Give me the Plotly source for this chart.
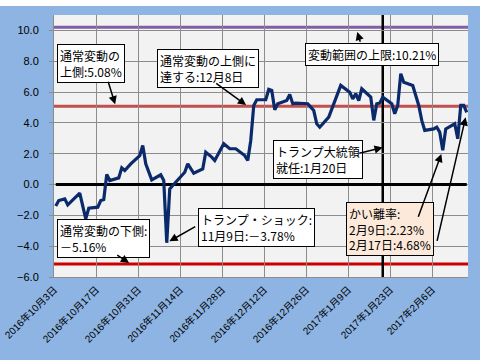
import plotly.graph_objects as go
import pandas as pd

# ---- data ----
DATES = [
    "2016-10-03", "2016-10-04", "2016-10-06", "2016-10-07", "2016-10-11", "2016-10-13",
    "2016-10-14", "2016-10-17", "2016-10-18", "2016-10-19", "2016-10-20", "2016-10-21",
    "2016-10-24", "2016-10-25", "2016-10-26", "2016-10-28", "2016-10-31", "2016-11-01",
    "2016-11-02", "2016-11-04", "2016-11-07", "2016-11-08", "2016-11-09", "2016-11-10",
    "2016-11-11", "2016-11-14", "2016-11-15", "2016-11-16", "2016-11-18", "2016-11-21",
    "2016-11-22", "2016-11-24", "2016-11-25", "2016-11-28", "2016-11-30", "2016-12-02",
    "2016-12-05", "2016-12-06", "2016-12-07", "2016-12-08", "2016-12-09", "2016-12-12",
    "2016-12-13", "2016-12-14", "2016-12-15", "2016-12-16", "2016-12-19", "2016-12-20",
    "2016-12-21", "2016-12-22", "2016-12-26", "2016-12-27", "2016-12-28", "2016-12-29",
    "2016-12-30", "2017-01-02", "2017-01-04", "2017-01-05", "2017-01-06", "2017-01-09",
    "2017-01-10", "2017-01-11", "2017-01-12", "2017-01-13", "2017-01-16", "2017-01-17",
    "2017-01-18", "2017-01-19", "2017-01-20", "2017-01-23", "2017-01-24", "2017-01-25",
    "2017-01-26", "2017-01-27", "2017-01-30", "2017-02-01", "2017-02-02", "2017-02-03",
    "2017-02-06", "2017-02-07", "2017-02-08", "2017-02-09", "2017-02-10", "2017-02-13",
    "2017-02-14", "2017-02-15", "2017-02-16", "2017-02-17",
]
DEVIATION = [
    -1.40, -1.04, -0.93, -1.32, -0.56, -2.23,
    -1.54, -1.47, -1.04, -0.97, 0.65, 0.26,
    0.43, 1.08, 0.91, 1.34, 1.88, 2.53,
    1.34, 0.30, 0.63, 0.26, -3.78, -0.28,
    -0.06, 0.58, 0.80, 1.34, 0.73, 1.02,
    2.10, 1.78, 1.56, 2.64, 2.32, 2.32,
    1.88, 1.56, 2.86, 5.13, 5.50, 5.50,
    6.17, 6.10, 4.85, 5.24, 5.45, 5.84,
    5.24, 5.28, 5.24, 5.02, 4.80, 3.94,
    3.72, 4.37, 5.34, 5.89, 6.43, 5.99,
    5.56, 5.89, 5.45, 6.21, 5.67, 4.16,
    5.24, 5.28, 5.67, 5.24, 4.59, 5.13,
    7.19, 6.64, 6.43, 5.13, 4.16, 3.51,
    3.61, 3.72, 3.40, 2.23, 3.61, 3.94,
    2.97, 5.13, 5.13, 4.68,
]
UPPER_NORMAL = 5.08
LOWER_NORMAL = -5.16
UPPER_LIMIT = 10.21
INAUGURATION = "2017-01-20"
SHOCK_DATE = "2016-11-09"
SHOCK_VALUE = -3.78
FEB9_DATE, FEB9_VALUE = "2017-02-09", 2.23
FEB17_DATE, FEB17_VALUE = "2017-02-17", 4.68

TICK_DATES = ["2016-10-03", "2016-10-17", "2016-10-31", "2016-11-14", "2016-11-28",
              "2016-12-12", "2016-12-26", "2017-01-09", "2017-01-23", "2017-02-06"]
TICK_LABELS = ["2016年10月3日", "2016年10月17日", "2016年10月31日", "2016年11月14日",
               "2016年11月28日", "2016年12月12日", "2016年12月26日", "2017年1月9日",
               "2017年1月23日", "2017年2月6日"]
Y_TICKS = [-6, -4, -2, 0, 2, 4, 6, 8, 10]

# ---- layout geometry ----
W, H = 480, 360
L, R, T, B = 54, 12, 15, 83
PW, PH = W - L - R, H - T - B

def px(x):
    return (x - L) / PW

def py(y):
    return (H - B - y) / PH

half_day = pd.Timedelta(hours=12)
xd = pd.to_datetime(DATES) + half_day
first, last = xd[0], xd[-1]

JP = "Noto Sans CJK JP"
AR = "Liberation Sans, Arial, Noto Sans CJK JP"

fig = go.Figure()
fig.add_trace(go.Scatter(
    x=xd, y=DEVIATION, mode="lines",
    line=dict(color="#0B2A6B", width=3.2), hoverinfo="skip", showlegend=False,
))

shapes = [
    # white strip at the very top of the picture
    dict(type="rect", xref="paper", yref="paper", x0=px(0), x1=px(W), y0=py(6), y1=py(0),
         fillcolor="white", line=dict(width=0), layer="above"),
    dict(type="line", xref="paper", yref="y", x0=0, x1=1, y0=UPPER_LIMIT, y1=UPPER_LIMIT,
         line=dict(color="#7F5FA6", width=3), layer="between"),
    dict(type="line", xref="paper", yref="y", x0=0, x1=1, y0=UPPER_NORMAL, y1=UPPER_NORMAL,
         line=dict(color="#C0504D", width=3), layer="between"),
    dict(type="line", xref="paper", yref="y", x0=0, x1=1, y0=LOWER_NORMAL, y1=LOWER_NORMAL,
         line=dict(color="#CC0000", width=3), layer="between"),
    dict(type="line", xref="x", yref="y", x0=first, x1=last, y0=0, y1=0,
         line=dict(color="black", width=3), layer="between"),
    dict(type="line", xref="x", yref="paper",
         x0=pd.Timestamp(INAUGURATION) + half_day, x1=pd.Timestamp(INAUGURATION) + half_day,
         y0=0, y1=1, line=dict(color="black", width=2.5), layer="between"),
]

def box(x, y, text, bg="white"):
    return dict(xref="paper", yref="paper", x=px(x), y=py(y), xanchor="left", yanchor="top",
                text=text, showarrow=False, align="left", bgcolor=bg, bordercolor="black",
                borderwidth=1, borderpad=2, font=dict(family=JP, size=12, color="black"))

def arrow(x, y, ax, ay, standoff=0):
    return dict(xref="x", yref="y", x=x, y=y, ax=ax, ay=ay, text="", showarrow=True,
                arrowhead=2, arrowsize=1.1, arrowwidth=1.5, arrowcolor="black",
                standoff=standoff)

ts = lambda s: pd.Timestamp(s) + half_day

annotations = [
    box(57, 44, "通常変動の<br>上側:5.08%"),
    box(157, 49, "通常変動の上側に<br>達する:12月8日"),
    box(305, 43, "変動範囲の上限:10.21%"),
    box(273, 140, "トランプ大統領<br>就任:1月20日"),
    box(198, 208, "トランプ・ショック:<br>11月9日:－3.78%"),
    box(57, 219, "通常変動の下側:<br>－5.16%"),
    box(346, 202, "かい離率:<br>2月9日:2.23%<br>2月17日:4.68%", bg="#FDE9D9"),
    arrow(ts("2016-10-23"), UPPER_NORMAL, -8, -26, standoff=2),
    arrow(ts("2016-12-06"), UPPER_NORMAL, -33, -24, standoff=2),
    arrow(ts("2017-01-11"), UPPER_LIMIT, 5, 16, standoff=5),
    arrow(ts(INAUGURATION), 2.4, -25, 6),
    arrow(ts(SHOCK_DATE), SHOCK_VALUE, 30, -17, standoff=3),
    arrow(ts("2016-10-28"), LOWER_NORMAL, -15, -10, standoff=2),
    arrow(ts(FEB9_DATE), FEB9_VALUE, -25, 68, standoff=4),
    arrow(ts(FEB17_DATE), FEB17_VALUE, -30, 130, standoff=5),
]

fig.update_layout(
    width=W, height=H,
    margin=dict(l=L, r=R, t=T, b=B, pad=0, autoexpand=False),
    paper_bgcolor="#8DB4E2", plot_bgcolor="#F2F2F2",
    shapes=shapes, annotations=annotations, showlegend=False,
    font=dict(family=AR, size=11, color="black"),
)
fig.update_xaxes(
    range=[pd.Timestamp("2016-10-02 22:00"), pd.Timestamp("2017-02-17 22:00")],
    tickvals=pd.to_datetime(TICK_DATES), ticktext=TICK_LABELS, tickangle=-45,
    tickfont=dict(family=AR, size=10, color="black"),
    showgrid=True, gridcolor="#8C8C8C", gridwidth=1,
    showline=True, linecolor="#8C8C8C", linewidth=1, zeroline=False, ticks="",
    automargin=False, ticklabeloverflow="allow", ticklabelstandoff=2,
)
fig.update_yaxes(
    range=[-6, 11], tickvals=Y_TICKS, tickformat=".1f",
    tickfont=dict(family=AR, size=11, color="black"),
    showgrid=True, gridcolor="#8C8C8C", gridwidth=1,
    showline=True, linecolor="#8C8C8C", linewidth=1, zeroline=False,
    ticks="outside", ticklen=4, tickcolor="#8C8C8C", ticklabelstandoff=8,
    automargin=False,
)

fig.write_html(
    "out.html",
    config={"displayModeBar": False},
    post_script="document.body.style.margin='0';document.body.style.overflow='hidden';",
)
